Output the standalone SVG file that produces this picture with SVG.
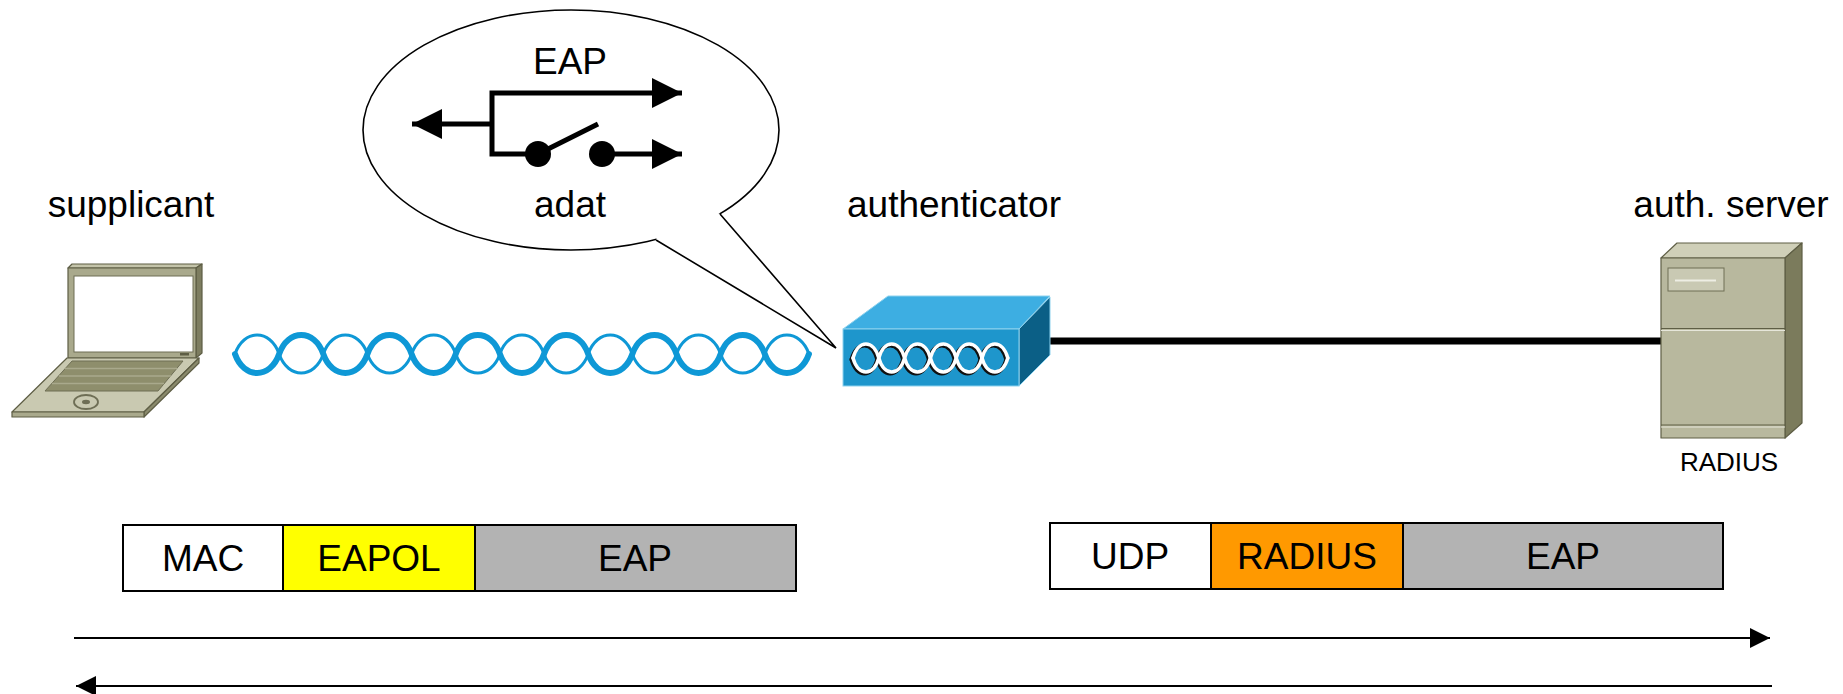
<svg xmlns="http://www.w3.org/2000/svg" width="1843" height="694" viewBox="0 0 1843 694">
  <style>
    .lbl { font-family: "Liberation Sans", Arial, sans-serif; font-size: 37px; fill: #000; text-anchor: middle; }
    .small { font-size: 26px; }
    .cell { stroke: #000; stroke-width: 2; }
    .wire { fill: none; stroke: #0e98d6; stroke-linecap: round; }
    .ln { fill: none; stroke: #000; }
    .khaki { stroke: #5e5e45; stroke-width: 1.2; stroke-linejoin: round; }
  </style>
  <defs>
    <marker id="headBig" markerUnits="userSpaceOnUse" markerWidth="20" markerHeight="20" refX="20" refY="10" orient="auto">
      <path d="M0,0 L20,10 L0,20 Z" fill="#000"/>
    </marker>
    <marker id="headSw" markerUnits="userSpaceOnUse" markerWidth="30" markerHeight="30" refX="30" refY="15" orient="auto">
      <path d="M0,0 L30,15 L0,30 Z" fill="#000"/>
    </marker>
  </defs>

  <rect width="1843" height="694" fill="#fff"/>

  <!-- connectors -->
  <g id="connectors">
    <!-- twisted-pair cable between laptop and authenticator -->
    <g id="cable">
      <path class="wire" stroke-width="3" d="M235,354 c8.8,-25.3 35.35,-25.3 44.15,0 c8.8,25.3 35.35,25.3 44.15,0 c8.8,-25.3 35.35,-25.3 44.15,0 c8.8,25.3 35.35,25.3 44.15,0 c8.8,-25.3 35.35,-25.3 44.15,0 c8.8,25.3 35.35,25.3 44.15,0 c8.8,-25.3 35.35,-25.3 44.15,0 c8.8,25.3 35.35,25.3 44.15,0 c8.8,-25.3 35.35,-25.3 44.15,0 c8.8,25.3 35.35,25.3 44.15,0 c8.8,-25.3 35.35,-25.3 44.15,0 c8.8,25.3 35.35,25.3 44.15,0 c8.8,-25.3 35.35,-25.3 44.15,0"/>
      <path class="wire" stroke-width="6" d="M235,354 c8.8,25.3 35.35,25.3 44.15,0 c8.8,-25.3 35.35,-25.3 44.15,0 c8.8,25.3 35.35,25.3 44.15,0 c8.8,-25.3 35.35,-25.3 44.15,0 c8.8,25.3 35.35,25.3 44.15,0 c8.8,-25.3 35.35,-25.3 44.15,0 c8.8,25.3 35.35,25.3 44.15,0 c8.8,-25.3 35.35,-25.3 44.15,0 c8.8,25.3 35.35,25.3 44.15,0 c8.8,-25.3 35.35,-25.3 44.15,0 c8.8,25.3 35.35,25.3 44.15,0 c8.8,-25.3 35.35,-25.3 44.15,0 c8.8,25.3 35.35,25.3 44.15,0"/>
    </g>
    <!-- wired link authenticator - server -->
    <path class="ln" stroke-width="7" d="M1050,341 H1661"/>
    <!-- direction arrows -->
    <path class="ln" stroke-width="2" d="M74,638 H1770" marker-end="url(#headBig)"/>
    <path class="ln" stroke-width="2" d="M1772,686 H76" marker-end="url(#headBig)"/>
  </g>

  <!-- speech bubble with the port switch -->
  <g id="bubble">
    <ellipse cx="571" cy="130" rx="208" ry="120" fill="#fff" stroke="#000" stroke-width="1.6"/>
    <path d="M656,240 L836,348 L720,214 L700,205 L660,225 Z" fill="#fff"/>
    <polyline points="656,240 836,348 720,214" fill="none" stroke="#000" stroke-width="1.6" stroke-linejoin="miter"/>
    <text class="lbl" x="570" y="74">EAP</text>
    <g stroke-width="5">
      <path class="ln" d="M538,154 H492 V93 H682" marker-end="url(#headSw)"/>
      <path class="ln" d="M492,124 H412" marker-end="url(#headSw)"/>
      <path class="ln" d="M602,154 H682" marker-end="url(#headSw)"/>
      <path class="ln" d="M546,150 L598,124"/>
    </g>
    <circle cx="538" cy="154" r="13" fill="#000"/>
    <circle cx="602" cy="154" r="13" fill="#000"/>
    <text class="lbl" x="570" y="217">adat</text>
  </g>

  <!-- supplicant laptop -->
  <g id="supplicant">
    <text class="lbl" x="131" y="217">supplicant</text>
    <!-- lid -->
    <path class="khaki" d="M68,268 L72,264 L202,264 L196,268 Z" fill="#c4c4aa"/>
    <path class="khaki" d="M196,268 L202,264 L202,353 L196,358 Z" fill="#7d7d60"/>
    <rect class="khaki" x="68" y="268" width="128" height="90" fill="#a9a98c"/>
    <rect x="74" y="276" width="119" height="76" fill="#fff" stroke="#6e6e55" stroke-width="1"/>
    <rect x="180" y="353" width="9" height="2.5" fill="#5e5e45"/>
    <!-- base -->
    <path class="khaki" d="M67,358 L199,358 L144,412 L12,412 Z" fill="#c9c9b1"/>
    <path class="khaki" d="M199,358 L199,363 L144,417 L144,412 Z" fill="#8a8a6c"/>
    <rect class="khaki" x="12" y="412" width="132" height="5" fill="#a9a98c"/>
    <!-- keyboard -->
    <path d="M72,361 L183,361 L158,391 L45,391 Z" fill="#8e8e6c" stroke="#6e6e55" stroke-width="1"/>
    <path d="M65,368.5 H177 M59,376 H171 M52,383.5 H164" stroke="#a9a98c" stroke-width="1.5"/>
    <!-- touchpad -->
    <ellipse cx="86" cy="402" rx="12" ry="7" fill="none" stroke="#6e6e55" stroke-width="1.8"/>
    <ellipse cx="86" cy="402" rx="4" ry="2.2" fill="#6e6e55"/>
  </g>

  <!-- authenticator -->
  <g id="authenticator">
    <text class="lbl" x="954" y="217">authenticator</text>
    <path d="M843,329 L888,296 L1050,296 L1019,329 Z" fill="#3daee2" stroke="#8ed2ee" stroke-width="1"/>
    <path d="M1019,329 L1050,297 L1050,355 L1019,386 Z" fill="#0b5f86" stroke="#8ed2ee" stroke-width="1"/>
    <rect x="843" y="329" width="176" height="57" fill="#1e96cc" stroke="#8ed2ee" stroke-width="1"/>
    <!-- helix emblem -->
    <g fill="none" stroke-linecap="round">
      <g stroke="#111" stroke-width="4" transform="translate(-1.5,1.5)">
        <path d="M853,358 c5.2,-18.7 20.6,-18.7 25.8,0 c5.2,18.7 20.6,18.7 25.8,0 c5.2,-18.7 20.6,-18.7 25.8,0 c5.2,18.7 20.6,18.7 25.8,0 c5.2,-18.7 20.6,-18.7 25.8,0 c5.2,18.7 20.6,18.7 25.8,0"/>
        <path d="M853,358 c5.2,18.7 20.6,18.7 25.8,0 c5.2,-18.7 20.6,-18.7 25.8,0 c5.2,18.7 20.6,18.7 25.8,0 c5.2,-18.7 20.6,-18.7 25.8,0 c5.2,18.7 20.6,18.7 25.8,0 c5.2,-18.7 20.6,-18.7 25.8,0"/>
      </g>
      <g stroke="#fff" stroke-width="3.5">
        <path d="M853,358 c5.2,-18.7 20.6,-18.7 25.8,0 c5.2,18.7 20.6,18.7 25.8,0 c5.2,-18.7 20.6,-18.7 25.8,0 c5.2,18.7 20.6,18.7 25.8,0 c5.2,-18.7 20.6,-18.7 25.8,0 c5.2,18.7 20.6,18.7 25.8,0"/>
        <path d="M853,358 c5.2,18.7 20.6,18.7 25.8,0 c5.2,-18.7 20.6,-18.7 25.8,0 c5.2,18.7 20.6,18.7 25.8,0 c5.2,-18.7 20.6,-18.7 25.8,0 c5.2,18.7 20.6,18.7 25.8,0 c5.2,-18.7 20.6,-18.7 25.8,0"/>
      </g>
    </g>
  </g>

  <!-- authentication server -->
  <g id="auth-server">
    <text class="lbl" x="1731" y="217">auth. server</text>
    <path class="khaki" d="M1661,258 L1677,243 L1802,243 L1785,258 Z" fill="#cfcfb8"/>
    <path class="khaki" d="M1785,258 L1802,243 L1802,423 L1785,438 Z" fill="#7b7b5c"/>
    <rect class="khaki" x="1661" y="258" width="124" height="180" fill="#b8b89e"/>
    <path d="M1661,328.5 H1785" stroke="#5e5e45" stroke-width="1.2"/>
    <path d="M1661,330.5 H1785" stroke="#e6e6da" stroke-width="1.2"/>
    <path d="M1661,425 H1785" stroke="#5e5e45" stroke-width="1.2"/>
    <path d="M1661,427 H1785" stroke="#e6e6da" stroke-width="1.2"/>
    <rect x="1668" y="268" width="56" height="23" fill="#c9c9b3" stroke="#6e6e55" stroke-width="1"/>
    <path d="M1675,280.5 H1716" stroke="#eeeee4" stroke-width="2"/>
    <text class="lbl small" x="1729" y="471">RADIUS</text>
  </g>

  <!-- EAPOL frame -->
  <g id="frame-eapol">
    <rect class="cell" x="123" y="525" width="160" height="66" fill="#fff"/>
    <rect class="cell" x="283" y="525" width="192" height="66" fill="#ffff00"/>
    <rect class="cell" x="475" y="525" width="321" height="66" fill="#b3b3b3"/>
    <text class="lbl" x="203" y="571">MAC</text>
    <text class="lbl" x="379" y="571">EAPOL</text>
    <text class="lbl" x="635" y="571">EAP</text>
  </g>

  <!-- RADIUS frame -->
  <g id="frame-radius">
    <rect class="cell" x="1050" y="523" width="161" height="66" fill="#fff"/>
    <rect class="cell" x="1211" y="523" width="192" height="66" fill="#ff9900"/>
    <rect class="cell" x="1403" y="523" width="320" height="66" fill="#b3b3b3"/>
    <text class="lbl" x="1130" y="569">UDP</text>
    <text class="lbl" x="1307" y="569">RADIUS</text>
    <text class="lbl" x="1563" y="569">EAP</text>
  </g>
</svg>
